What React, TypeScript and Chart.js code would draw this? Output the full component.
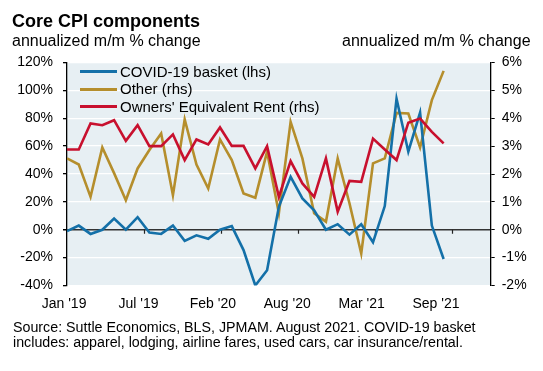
import { useEffect, useRef } from 'react';
import { Chart, registerables } from 'chart.js';

Chart.register(...registerables);

// Months Jan 2019 .. Sep 2021
const months = [
  '2019-01', '2019-02', '2019-03', '2019-04', '2019-05', '2019-06', '2019-07', '2019-08', '2019-09', '2019-10', '2019-11', '2019-12',
  '2020-01', '2020-02', '2020-03', '2020-04', '2020-05', '2020-06', '2020-07', '2020-08', '2020-09', '2020-10', '2020-11', '2020-12',
  '2021-01', '2021-02', '2021-03', '2021-04', '2021-05', '2021-06', '2021-07', '2021-08', '2021-09',
];

// COVID-19 basket, lhs, annualized m/m %
const covidBasket = [
  -1, 3, -3, 0, 8, 0, 9, -2, -3, 3, -8, -4,
  -6.5, 0, 2.6, -14.6, -40, -29, 16.5, 38, 22.5, 14, 0, 4,
  -3.5, 4, -9, 17, 94, 56, 84, 3, -21,
];

// Other, rhs, annualized m/m %
const other = [
  2.56, 2.34, 1.18, 2.95, 2.03, 1.06, 2.2, 2.86, 3.45, 1.24, 3.96, 2.34,
  1.48, 3.24, 2.5, 1.3, 1.15, 2.8, 0.59, 3.87, 2.56, 0.59, 0.29, 2.56,
  0.95, -0.85, 2.38, 2.56, 4.19, 4.17, 2.95, 4.65, 5.7,
];

// Owners' Equivalent Rent, rhs, annualized m/m %
const oer = [
  2.88, 2.88, 3.81, 3.75, 3.93, 3.19, 3.75, 3.0, 3.0, 3.42, 2.5, 3.24,
  3.06, 3.67, 3.01, 3.01, 2.2, 3.0, 1.18, 2.46, 1.66, 1.18, 2.56, 0.65,
  1.75, 1.72, 3.27, 2.88, 2.5, 3.84, 3.99, 3.51, 3.1,
];

const xTickLabels = ["Jan '19", "Jul '19", "Feb '20", "Aug '20", "Mar '21", "Sep '21"];
const seriesNames = ['COVID-19 basket (lhs)', 'Other (rhs)', "Owners' Equivalent Rent (rhs)"];

const COLORS = ['#1470A8', '#B58E2C', '#C8102E'];
const FONT = '"Liberation Sans", Arial, sans-serif';

// axis layout (not data)
const X_MAX = 36;
const LABEL_STEP = 6.32;
const LABEL_START = -0.25;
const MARK_STEP = 36 / 5.5;

const bgPlugin = {
  id: 'plotBg',
  beforeDraw(chart: any) {
    const { ctx, chartArea } = chart;
    ctx.save();
    ctx.fillStyle = '#E7EFF3';
    ctx.fillRect(chartArea.left, chartArea.top, chartArea.right - chartArea.left, chartArea.bottom - chartArea.top);
    ctx.restore();
  },
};

const zeroTicksPlugin = {
  id: 'zeroTicks',
  beforeDatasetsDraw(chart: any) {
    const { ctx } = chart;
    const xs = chart.scales.x;
    const ys = chart.scales.y;
    const y0 = ys.getPixelForValue(0);
    ctx.save();
    ctx.strokeStyle = '#222';
    ctx.lineWidth = 1.2;
    ctx.beginPath();
    for (let k = 1; k <= 5; k++) {
      const px = Math.round(xs.getPixelForValue(MARK_STEP * k)) + 0.5;
      ctx.moveTo(px, y0);
      ctx.lineTo(px, y0 + 4);
    }
    ctx.stroke();
    ctx.restore();
  },
};

export default function App() {
  const canvasRef = useRef<HTMLCanvasElement | null>(null);

  useEffect(() => {
    const canvas = canvasRef.current;
    if (!canvas) return;
    const toPts = (arr: number[]) => arr.map((v, i) => ({ x: i, y: v }));
    const chart = new Chart(canvas, {
      type: 'line',
      data: {
        labels: months,
        datasets: [
          { label: seriesNames[0], data: toPts(covidBasket), yAxisID: 'y', borderColor: COLORS[0], borderWidth: 2.6, pointRadius: 0, tension: 0, order: 1 },
          { label: seriesNames[1], data: toPts(other), yAxisID: 'y2', borderColor: COLORS[1], borderWidth: 2.6, pointRadius: 0, tension: 0, order: 2 },
          { label: seriesNames[2], data: toPts(oer), yAxisID: 'y2', borderColor: COLORS[2], borderWidth: 2.6, pointRadius: 0, tension: 0, order: 0 },
        ],
      },
      options: {
        responsive: false,
        animation: false,
        devicePixelRatio: 1,
        layout: { padding: { top: 62.5, bottom: 55.5, left: 0, right: 0 } },
        plugins: { legend: { display: false }, tooltip: { enabled: false }, title: { display: false } },
        scales: {
          x: {
            type: 'linear',
            min: 0,
            max: X_MAX,
            grid: { display: false },
            border: { display: false },
            afterBuildTicks(scale: any) {
              scale.ticks = xTickLabels.map((_, i) => ({ value: LABEL_START + LABEL_STEP * i }));
            },
            afterFit(scale: any) {
              scale.height = 30;
            },
            ticks: {
              autoSkip: false,
              maxRotation: 0,
              padding: 2,
              color: '#000',
              font: { family: FONT, size: 14 },
              callback: (_v: any, i: number) => xTickLabels[i],
            },
          },
          y: {
            position: 'left',
            min: -40,
            max: 120,
            afterFit(scale: any) {
              scale.width = 67;
            },
            grid: {
              color: (c: any) => (c.tick && c.tick.value === 0 ? '#333' : '#FFFFFF'),
              lineWidth: (c: any) => (c.tick && c.tick.value === 0 ? 1.5 : 1.3),
              tickColor: '#000',
              tickLength: 4,
            },
            border: { display: true, color: '#000', width: 1.3 },
            ticks: {
              stepSize: 20,
              padding: 10,
              color: '#000',
              font: { family: FONT, size: 14 },
              callback: (v: any) => `${v}%`,
            },
          },
          y2: {
            position: 'right',
            min: -2,
            max: 6,
            afterFit(scale: any) {
              scale.width = 52.3;
            },
            grid: { drawOnChartArea: false, tickColor: '#000', tickLength: 4 },
            border: { display: true, color: '#000', width: 1.3 },
            ticks: {
              stepSize: 1,
              padding: 7,
              color: '#000',
              font: { family: FONT, size: 14 },
              callback: (v: any) => `${v}%`,
            },
          },
        },
      } as any,
      plugins: [bgPlugin, zeroTicksPlugin],
    });
    return () => chart.destroy();
  }, []);

  const text = (extra: any) => ({ position: 'absolute', whiteSpace: 'nowrap', color: '#000', fontFamily: FONT, lineHeight: 1, margin: 0, ...extra });

  return (
    <div style={{ position: 'fixed', left: 0, top: 0, width: 543, height: 371, background: '#fff', overflow: 'hidden' }}>
      <canvas ref={canvasRef} width={543} height={371} style={{ position: 'absolute', left: 0, top: 0, width: 543, height: 371 }} />
      <div style={text({ left: 12, top: 11.5, fontSize: 18, fontWeight: 'bold' })}>Core CPI components</div>
      <div style={text({ left: 12, top: 33, fontSize: 16 })}>annualized m/m % change</div>
      <div style={text({ left: 342, top: 33, fontSize: 16 })}>annualized m/m % change</div>
      {seriesNames.map((name, i) => (
        <div key={name} style={{ position: 'absolute', left: 80, top: 62.7 + i * 17.5, height: 18, display: 'flex', alignItems: 'center' }}>
          <span style={{ display: 'inline-block', width: 37, height: 3, background: COLORS[i] }} />
          <span style={{ marginLeft: 3, fontFamily: FONT, fontSize: 15, lineHeight: '18px', color: '#000', whiteSpace: 'nowrap' }}>{name}</span>
        </div>
      ))}
      <div style={text({ left: 13, top: 320, fontSize: 14.25, lineHeight: '15px' })}>
        Source: Suttle Economics, BLS, JPMAM. August 2021. COVID-19 basket
        <br />
        includes: apparel, lodging, airline fares, used cars, car insurance/rental.
      </div>
    </div>
  );
}
